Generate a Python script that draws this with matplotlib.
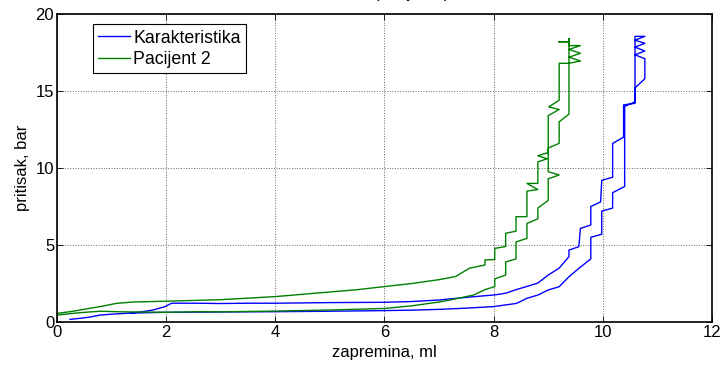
import matplotlib
matplotlib.use("Agg")
import matplotlib.pyplot as plt

# ---------------------------------------------------------
# Data
# ---------------------------------------------------------
blue_vol = [0.24, 0.45, 0.6, 0.79, 1.05, 1.34, 1.55, 1.76, 1.98, 2.1, 2.6, 3.0, 3.5, 4.0,
            4.5, 5.0, 5.5, 6.0, 6.5, 7.0, 7.56, 8.02, 8.22, 8.41, 8.61, 8.81, 9.0, 9.2,
            9.38, 9.38, 9.56, 9.59, 9.78, 9.78, 9.96, 9.98, 10.18, 10.18, 10.38, 10.38,
            10.59, 10.59,
            10.77, 10.59, 10.77, 10.59, 10.77, 10.59, 10.77,
            10.77, 10.59, 10.59, 10.40, 10.40, 10.18, 10.18, 9.98, 9.98, 9.78, 9.78,
            9.56, 9.38, 9.2, 9.0, 8.81, 8.61, 8.42, 8.0, 7.5, 7.0, 6.5, 6.0, 5.0, 4.0,
            3.0, 2.0, 1.34]
blue_p = [0.17, 0.25, 0.32, 0.45, 0.52, 0.58, 0.66, 0.78, 1.0, 1.22, 1.22, 1.2, 1.22, 1.22,
          1.24, 1.26, 1.27, 1.28, 1.33, 1.43, 1.62, 1.76, 1.87, 2.1, 2.31, 2.53, 3.05, 3.5,
          4.24, 4.67, 4.89, 6.08, 6.3, 7.5, 7.8, 9.2, 9.4, 11.6, 12.0, 14.1,
          14.2, 18.55,
          18.55, 18.3, 18.1, 17.85, 17.6, 17.35, 17.1,
          15.8, 15.2, 14.3, 14.0, 8.8, 8.4, 7.4, 7.2, 5.7, 5.5, 4.1,
          3.48, 2.94, 2.29, 2.08, 1.75, 1.54, 1.21, 1.0, 0.9, 0.82, 0.77, 0.74, 0.7, 0.67,
          0.65, 0.63, 0.58]

green_vol = [0.0, 0.4, 0.79, 1.2, 2.0, 2.6, 3.0, 4.0, 5.0, 6.0, 6.5, 7.0, 7.2, 7.63, 7.84,
             8.02, 8.02, 8.22, 8.22, 8.41, 8.41, 8.61, 8.61, 8.81, 8.81, 9.0, 9.0, 9.2, 9.0,
             9.0, 9.2, 9.2, 9.38, 9.38,
             9.38, 9.19, 9.38, 9.38, 9.59, 9.38, 9.59, 9.38, 9.59, 9.38, 9.2,
             9.2, 9.01, 9.2, 9.0, 9.0, 8.81, 8.98, 8.81, 8.81, 8.61, 8.81, 8.61, 8.61, 8.41,
             8.41, 8.22, 8.22, 8.02, 8.02, 7.84, 7.84, 7.56, 7.3, 7.0, 6.5, 6.0, 5.5, 5.0,
             4.5, 4.0, 3.5, 3.0, 2.5, 2.0, 1.4, 1.09, 0.79, 0.6, 0.3, 0.0]
green_p = [0.45, 0.6, 0.7, 0.66, 0.63, 0.67, 0.66, 0.71, 0.78, 0.88, 1.05, 1.3, 1.43, 1.75, 2.1,
           2.3, 2.8, 3.05, 3.9, 4.1, 5.2, 5.43, 6.4, 6.7, 7.4, 7.9, 9.3, 9.55, 9.76,
           11.3, 11.6, 13.0, 13.5, 18.4,
           18.2, 18.2, 18.2, 17.95, 17.95, 17.7, 17.45, 17.2, 16.95, 16.8, 16.8,
           14.4, 13.97, 13.8, 13.4, 11.0, 10.8, 10.6, 10.4, 9.0, 9.0, 8.6, 8.5, 6.84, 6.84,
           5.9, 5.76, 4.9, 4.78, 4.06, 4.03, 3.7, 3.5, 2.95, 2.75, 2.5, 2.3, 2.1, 1.95,
           1.8, 1.65, 1.55, 1.45, 1.4, 1.35, 1.3, 1.21, 1.0, 0.89, 0.7, 0.56]

x_ticks = [0, 2, 4, 6, 8, 10, 12]
y_ticks = [0, 5, 10, 15, 20]

BLUE = "#0000FF"
GREEN = "#008000"

plt.rcParams["font.family"] = ["Liberation Sans", "DejaVu Sans"]
plt.rcParams["font.size"] = 12

# ---------------------------------------------------------
# Figure
# ---------------------------------------------------------
fig = plt.figure(figsize=(7.24, 3.66), dpi=100)
ax = fig.add_axes([0.0787, 0.1202, 0.9047, 0.8415])

ax.plot(blue_vol, blue_p, color=BLUE, linewidth=1.0, label="Karakteristika")
ax.plot(green_vol, green_p, color=GREEN, linewidth=1.0, label="Pacijent 2")

ax.set_xlim(0, 12)
ax.set_ylim(0, 20)
ax.set_xticks(x_ticks)
ax.set_yticks(y_ticks)
ax.tick_params(direction="in", length=4, width=0.6, top=True, right=True,
               labelsize=12, pad=2)
ax.grid(True, linestyle=":", color="0.4", linewidth=0.7)
for s in ax.spines.values():
    s.set_linewidth(1.2)

ax.set_xlabel("zapremina, ml", fontsize=12, labelpad=4)
ax.set_ylabel("pritisak, bar", fontsize=12, labelpad=4)

leg = ax.legend(loc="upper left", bbox_to_anchor=(0.055, 0.967), fontsize=12.8,
                frameon=True, fancybox=False, framealpha=1, edgecolor="black",
                handlelength=1.8, handletextpad=0.15, borderpad=0.3,
                labelspacing=0.25, borderaxespad=0)
leg.get_frame().set_linewidth(0.8)

# title sits almost entirely above the canvas, as in the reference
fig.text(0.532, 1.006, "Karakteristika i pacijent, p-V kriva", ha="center",
         va="baseline", fontsize=12)

fig.savefig("out.png", dpi=100)
